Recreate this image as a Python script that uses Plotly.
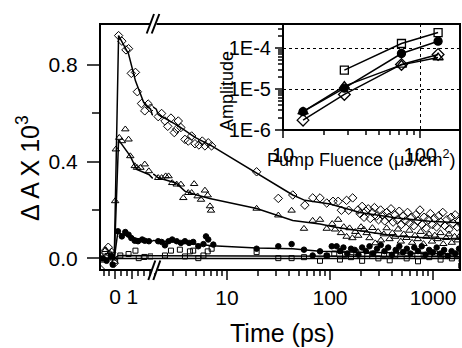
import plotly.graph_objects as go

# ---------------- main panel data (time in ps, dA x 10^3) ----------------
dia_t = [-0.85, -0.6, -0.4, -0.2, -0.05,
         0.2, 0.39, 0.63, 0.78, 0.94, 1.18, 1.29, 1.53, 1.72, 1.92, 2.06,
         2.15, 2.32, 2.5, 2.66, 2.86, 3.08, 3.25, 3.37, 3.57, 3.91, 4.21, 4.54, 4.89, 5.34, 5.76, 6.11, 6.58, 7.09,
         19.4, 31.5, 43.5, 57, 68, 80, 93,
         107, 120, 129, 145, 152, 166, 187, 196, 205, 214, 224, 235, 246, 258, 270, 283, 296, 310, 325, 340,
         356, 373, 391, 410, 429, 449, 470, 493, 516, 540, 566, 593, 621, 650, 681, 713, 747, 782, 819, 858,
         899, 941, 986, 1033, 1082, 1133, 1187, 1243, 1302, 1364, 1428, 1496, 1567, 1641, 1719, 1800, 1885]
dia_v = [-0.045, 0.03, 0.046, 0.025, -0.02,
         0.921, 0.898, 0.862, 0.867, 0.765, 0.769, 0.689, 0.640, 0.610, 0.638, 0.621,
         0.586, 0.599, 0.568, 0.546, 0.580, 0.520, 0.534, 0.568, 0.541, 0.492, 0.485, 0.506, 0.474, 0.469, 0.485, 0.465, 0.478, 0.465,
         0.358, 0.248, 0.262, 0.220, 0.250, 0.250, 0.229,
         0.236, 0.236, 0.199, 0.240, 0.199, 0.250, 0.200, 0.185, 0.215, 0.170, 0.195, 0.205, 0.165, 0.190, 0.210, 0.175, 0.160, 0.200, 0.180, 0.155,
         0.190, 0.170, 0.205, 0.150, 0.180, 0.160, 0.195, 0.140, 0.175, 0.155, 0.190, 0.145, 0.170, 0.135, 0.180, 0.155, 0.200, 0.140, 0.170, 0.125,
         0.160, 0.185, 0.140, 0.165, 0.130, 0.175, 0.150, 0.190, 0.135, 0.160, 0.120, 0.170, 0.145, 0.180, 0.130, 0.155, 0.140]

tri_t = [-0.8, -0.55, -0.3, -0.1,
         0.0, 0.04, 0.24, 0.39, 0.59, 0.78, 0.88, 1.14, 1.27, 1.47, 1.72, 1.96,
         2.15, 2.32, 2.54, 2.71, 2.94, 3.25, 3.57, 3.77, 4.21, 4.54, 4.8, 5.19, 5.6, 6.11, 6.5, 6.84, 7.0,
         19.4, 31.5, 42.4, 55.9, 67.9, 80, 93,
         105, 112, 120, 128, 136, 145, 155, 165, 176, 188, 200, 213, 227, 242, 258, 275, 293, 312, 333, 355,
         378, 403, 429, 457, 487, 519, 553, 589, 627, 668, 712, 759, 808, 861, 917, 977, 1041, 1109, 1181, 1258,
         1340, 1428, 1521, 1620, 1726, 1839]
tri_v = [0.01, 0.035, 0.02, 0.0,
         0.237, 0.451, 0.499, 0.485, 0.534, 0.492, 0.423, 0.382, 0.375, 0.375, 0.389, 0.361,
         0.333, 0.333, 0.340, 0.340, 0.312, 0.306, 0.306, 0.250, 0.271, 0.271, 0.308, 0.257, 0.243, 0.281, 0.261, 0.216, 0.198,
         0.206, 0.178, 0.198, 0.123, 0.156, 0.160, 0.123,
         0.143, 0.120, 0.160, 0.105, 0.130, 0.090, 0.125, 0.084, 0.110, 0.094, 0.130, 0.120, 0.105, 0.084, 0.126, 0.063, 0.110, 0.075, 0.100, 0.125,
         0.080, 0.105, 0.090, 0.120, 0.070, 0.100, 0.085, 0.115, 0.065, 0.095, 0.080, 0.110, 0.060, 0.090, 0.100, 0.070, 0.095, 0.080, 0.105, 0.060,
         0.085, 0.100, 0.065, 0.090, 0.075, 0.095]

cir_t = [-0.75, -0.5, -0.25, -0.14,
         0.16, 0.39, 0.59, 0.78, 0.94, 1.14, 1.33, 1.57, 1.72, 1.96,
         2.15, 2.32, 2.5, 2.71, 2.94, 3.25, 3.57, 3.91, 4.29, 4.7, 5.27, 5.91, 6.26, 6.58, 7.37,
         19.4, 31.5, 42.4, 55.9, 67.9, 80, 93, 104, 116,
         125, 135, 147, 160, 174, 189, 205, 223, 242, 263, 286, 311, 338, 367, 399, 434, 471, 512,
         557, 605, 658, 715, 777, 845, 918, 998, 1085, 1179, 1282, 1393, 1514, 1646, 1789, 1900]
cir_v = [0.0, -0.01, 0.01, -0.026,
         0.112, 0.091, 0.109, 0.098, 0.084, 0.073, 0.071, 0.078, 0.073, 0.071,
         0.071, 0.068, 0.054, 0.071, 0.078, 0.071, 0.064, 0.071, 0.064, 0.068, 0.050, 0.059, 0.091, 0.078, 0.057,
         0.040, 0.050, 0.059, 0.036, 0.012, 0.029, 0.012, 0.050, 0.050,
         0.030, 0.045, 0.020, 0.040, 0.035, 0.015, 0.045, 0.030, 0.050, 0.020, 0.040, 0.055, 0.030, 0.045, 0.015, 0.035, 0.050, 0.025,
         0.040, 0.020, 0.045, 0.030, 0.050, 0.015, 0.035, 0.025, 0.045, 0.020, 0.035, 0.010, 0.030, 0.020, 0.040, -0.010]

sq_t = [-0.7, -0.45, -0.2, 0.0,
        0.3, 0.78, 1.18, 1.37, 1.7, 2.06,
        2.5, 2.86, 3.49, 3.91, 4.37, 4.7, 5.27, 5.91, 6.5, 7.1,
        19.4, 31.5, 42.4, 55.9, 80, 93,
        110, 125, 140, 160, 180, 205, 230, 260, 295, 335, 380, 430, 490, 555, 630, 715, 810, 920, 1045, 1185,
        1345, 1525, 1730, 1880]
sq_v = [-0.005, 0.01, 0.015, -0.01,
        0.012, 0.018, 0.032, 0.001, 0.006, 0.008,
        0.012, 0.032, 0.036, 0.008, 0.029, 0.032, 0.001, 0.012, 0.029, 0.040,
        0.026, 0.001, 0.001, 0.005, -0.010, 0.010,
        0.020, -0.005, 0.015, 0.005, 0.025, -0.010, 0.010, 0.020, 0.000, 0.015, -0.008, 0.012, 0.025, 0.000, 0.010, -0.012, 0.015, 0.005, 0.020, -0.005,
        0.010, 0.000, 0.015, -0.030]

# fitted curves
dia_fit_t = [-0.88, -0.05, 0.2, 0.4, 0.78, 1.18, 1.66, 2.06, 2.15, 3.37, 4.9, 7.1, 19.4, 43.5, 57, 100, 195, 446, 930, 2000]
dia_fit_v = [0.0, 0.0, 0.921, 0.895, 0.845, 0.734, 0.644, 0.617, 0.595, 0.548, 0.500, 0.465, 0.352, 0.262, 0.240, 0.225, 0.190, 0.167, 0.154, 0.146]
tri_fit_t = [-0.88, -0.05, 0.2, 0.88, 1.25, 1.96, 2.15, 3.2, 3.9, 4.9, 6.8, 19.4, 43.5, 80, 110, 210, 445, 930, 2000]
tri_fit_v = [0.0, 0.0, 0.490, 0.423, 0.368, 0.347, 0.333, 0.312, 0.278, 0.264, 0.248, 0.206, 0.157, 0.142, 0.130, 0.112, 0.092, 0.084, 0.078]
cir_fit_t = [-0.88, -0.05, 0.15, 0.6, 1.0, 1.5, 2.2, 3.5, 5.0, 7.2, 19.4, 43.5, 55, 80, 150, 400, 1000, 2000]
cir_fit_v = [0.0, 0.0, 0.105, 0.095, 0.085, 0.077, 0.072, 0.066, 0.058, 0.052, 0.043, 0.040, 0.036, 0.029, 0.026, 0.022, 0.020, 0.018]
sq_fit_t = [-0.88, -0.05, 0.2, 2.2, 100, 2000]
sq_fit_v = [0.0, 0.0, 0.012, 0.011, 0.010, 0.008]

# ---------------- inset data ----------------
fluence_sq = [28, 73, 135]
amp_sq = [2.9e-5, 1.3e-4, 2.4e-4]
fluence = [14, 28, 73, 135]
amp_cir = [2.8e-6, 1.05e-5, 7.4e-5, 1.48e-4]
amp_tri = [2.8e-6, 1.18e-5, 3.9e-5, 5.9e-5]
amp_dia = [1.74e-6, 7.4e-6, 4.0e-5, 7.0e-5]

T_BREAK = 2.1
FONT = "Liberation Sans, Arial, sans-serif"

fig = go.Figure()


def split(t, v):
    lin = [(a, b) for a, b in zip(t, v) if a < T_BREAK]
    lg = [(a, b) for a, b in zip(t, v) if a >= T_BREAK]
    return ([a for a, _ in lin], [b for _, b in lin]), ([a for a, _ in lg], [b for _, b in lg])


series = [
    (dia_t, dia_v, dia_fit_t, dia_fit_v, dict(symbol="diamond-open", size=6.5)),
    (tri_t, tri_v, tri_fit_t, tri_fit_v, dict(symbol="triangle-up-open", size=6.5)),
    (cir_t, cir_v, cir_fit_t, cir_fit_v, dict(symbol="circle", size=5.5)),
    (sq_t, sq_v, sq_fit_t, sq_fit_v, dict(symbol="square-open", size=5)),
]

for t, v, ft, fv, mk in series:
    (lt, lv), (gt, gv) = split(t, v)
    marker = dict(color="black", line=dict(color="black", width=1), **mk)
    fig.add_trace(go.Scatter(x=lt, y=lv, mode="markers", marker=marker, xaxis="x", yaxis="y"))
    fig.add_trace(go.Scatter(x=gt, y=gv, mode="markers", marker=marker, xaxis="x2", yaxis="y"))
for t, v, ft, fv, mk in series:
    fig.add_trace(go.Scatter(x=ft, y=fv, mode="lines", line=dict(color="black", width=1.5), xaxis="x", yaxis="y"))
    fig.add_trace(go.Scatter(x=[a for a in ft if a > 0], y=[b for a, b in zip(ft, fv) if a > 0],
                             mode="lines", line=dict(color="black", width=1.5), xaxis="x2", yaxis="y"))

inset = [
    (fluence_sq, amp_sq, dict(symbol="square-open", size=8)),
    (fluence, amp_cir, dict(symbol="circle", size=8)),
    (fluence, amp_tri, dict(symbol="triangle-up-open", size=9)),
    (fluence, amp_dia, dict(symbol="diamond-open", size=9)),
]
for fx, fy, mk in inset:
    fig.add_trace(go.Scatter(x=fx, y=fy, mode="lines+markers",
                             line=dict(color="black", width=1.5),
                             marker=dict(color="black", line=dict(color="black", width=1.3), **mk),
                             xaxis="x3", yaxis="y2"))

L, R, T, B = 100, 2, 24, 78
W, H = 462, 348
PW, PH = W - L - R, H - T - B


def px(x):
    return (x - L) / PW


def py(y):
    return (T + PH - y) / PH


dsplit = px(153)
tickfont = dict(family=FONT, size=21, color="black")

fig.update_layout(
    width=W, height=H, margin=dict(l=L, r=R, t=T, b=B),
    paper_bgcolor="white", plot_bgcolor="white", showlegend=False,
    font=dict(family=FONT, color="black"),
    xaxis=dict(domain=[0, dsplit], range=[-0.88, 2.2], anchor="y",
               tickvals=[0, 1], ticktext=["0", "1"], ticks="outside", ticklen=8, tickwidth=2,
               minor=dict(tickvals=[-2 / 3, -1 / 3, 1 / 3, 2 / 3, 4 / 3, 5 / 3, 2],
                          ticks="outside", ticklen=5, tickwidth=1.5, showgrid=False),
               showgrid=False, zeroline=False, showline=False, tickfont=tickfont, automargin=False),
    xaxis2=dict(domain=[dsplit, 1], type="log", range=[0.282, 3.262], anchor="y",
                tickvals=[10, 100, 1000], ticktext=["10", "100", "1000"],
                ticks="outside", ticklen=9, tickwidth=2,
                minor=dict(tickvals=[2, 3, 4, 5, 6, 7, 8, 9, 20, 30, 40, 50, 60, 70, 80, 90,
                                     200, 300, 400, 500, 600, 700, 800, 900],
                           ticks="outside", ticklen=5, tickwidth=1.5, showgrid=False),
                showgrid=False, zeroline=False, showline=False, tickfont=tickfont, automargin=False),
    yaxis=dict(domain=[0, 1], range=[-0.048, 0.969], anchor="x",
               tickvals=[0, 0.4, 0.8], ticktext=["0.0", "0.4", "0.8"],
               ticks="outside", ticklen=12, tickwidth=2, ticklabelstandoff=5,
               minor=dict(tickvals=[0.2, 0.6], ticks="outside", ticklen=7, tickwidth=2, showgrid=False),
               showgrid=False, zeroline=False, showline=False, tickfont=tickfont, automargin=False),
    xaxis3=dict(domain=[px(283), 1], type="log", range=[1, 2.29], anchor="y2",
                tickvals=[10, 100], ticktext=["10", "100"], ticks="outside", ticklen=7, tickwidth=1.5,
                minor=dict(tickvals=[20, 30, 40, 50, 60, 70, 80, 90], ticks="outside", ticklen=4,
                           tickwidth=1.5, showgrid=False),
                showgrid=True, gridcolor="black", griddash="dot", gridwidth=1,
                zeroline=False, showline=False, tickfont=dict(family=FONT, size=20, color="black"),
                automargin=False),
    yaxis2=dict(domain=[py(130), 1], type="log", range=[-6, -3.41], anchor="x3",
                tickvals=[1e-6, 1e-5, 1e-4], ticktext=["1E-6", "1E-5", "1E-4"],
                ticks="outside", ticklen=7, tickwidth=1.5,
                minor=dict(tickvals=[2e-6, 3e-6, 4e-6, 5e-6, 6e-6, 7e-6, 8e-6, 9e-6,
                                     2e-5, 3e-5, 4e-5, 5e-5, 6e-5, 7e-5, 8e-5, 9e-5,
                                     2e-4, 3e-4], ticks="outside", ticklen=4, tickwidth=1.5, showgrid=False),
                showgrid=True, gridcolor="black", griddash="dot", gridwidth=1,
                zeroline=False, showline=False, tickfont=dict(family=FONT, size=20, color="black"),
                automargin=False),
)

shapes = [
    dict(type="line", xref="paper", yref="y", x0=0, x1=1, y0=0, y1=0,
         line=dict(color="black", width=1.5), layer="below"),
    dict(type="rect", xref="paper", yref="paper", x0=0, x1=1, y0=0, y1=1,
         line=dict(color="black", width=2)),
    dict(type="rect", xref="paper", yref="paper", x0=px(283), x1=1, y0=py(130), y1=1,
         line=dict(color="black", width=2)),
    # axis-break gaps
    dict(type="rect", xref="paper", yref="paper", x0=px(150.5), x1=px(156.5), y0=py(27), y1=py(21),
         fillcolor="white", line=dict(width=0)),
    dict(type="rect", xref="paper", yref="paper", x0=px(151.5), x1=px(157.5), y0=py(273), y1=py(267),
         fillcolor="white", line=dict(width=0)),
]
for (x0, y0, x1, y1) in [(146.7, 33.5, 154, 14), (151.7, 33.5, 159.3, 14),
                         (148.3, 280, 155.3, 260.5), (153.3, 280, 160.3, 260.5)]:
    shapes.append(dict(type="line", xref="paper", yref="paper", x0=px(x0), y0=py(y0), x1=px(x1), y1=py(y1),
                       line=dict(color="black", width=2)))
fig.update_layout(shapes=shapes)

fig.update_layout(annotations=[
    dict(text="Time (ps)", xref="paper", yref="paper", x=px(282), y=py(333), showarrow=False,
         xanchor="center", yanchor="middle", font=dict(family=FONT, size=25, color="black")),
    dict(text="\u0394 A X 10<sup>3</sup>", xref="paper", yref="paper", x=px(28), y=py(168), showarrow=False,
         textangle=-90, xanchor="center", yanchor="middle", font=dict(family=FONT, size=25, color="black")),
    dict(text="Amplitude", xref="paper", yref="paper", x=px(227), y=py(91), showarrow=False,
         textangle=-90, xanchor="center", yanchor="middle", font=dict(family=FONT, size=18, color="black")),
    dict(text="Pump Fluence (\u03bcJ/cm<sup>2</sup>)", xref="paper", yref="paper", x=px(361), y=py(158),
         showarrow=False, xanchor="center", yanchor="middle", font=dict(family=FONT, size=18, color="black")),
])

fig.write_html("out.html", config={"displayModeBar": False},
               post_script="document.body.style.margin='0';document.body.style.overflow='hidden';")
